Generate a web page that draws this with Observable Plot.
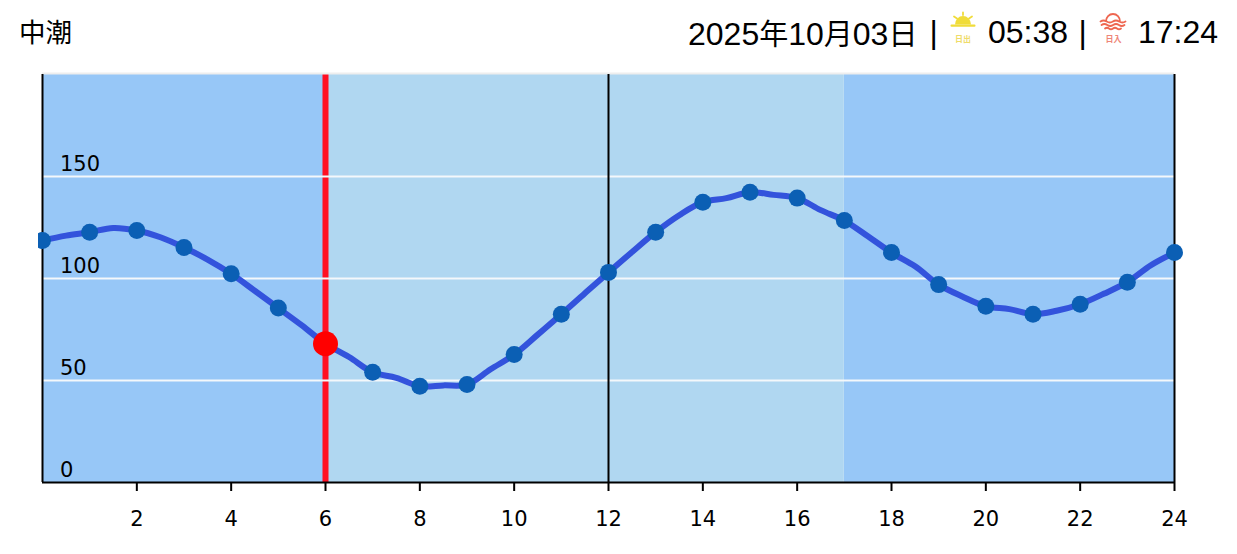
<!DOCTYPE html>
<html lang="ja">
<head>
<meta charset="utf-8">
<script src="https://cdn.jsdelivr.net/npm/d3@7"></script>
<script src="https://cdn.jsdelivr.net/npm/@observablehq/plot@0.6"></script>
<style>
html,body{margin:0;padding:0;background:#fff;overflow:hidden;width:1237px;height:554px}
#header{position:relative;height:60px;width:1237px;font-family:"Liberation Sans","Noto Sans CJK JP",sans-serif;color:#000}
#header span.t{position:absolute;top:13px;line-height:38px;font-size:32px;white-space:nowrap}
#header .c{font-family:"Noto Sans CJK JP",sans-serif;font-size:29px}
#header svg{position:absolute;top:10px}
#chart svg{display:block;clip-path:inset(0 0 0 38px)}
</style>
</head>
<body>
<div id="header"></div>
<div id="chart"></div>
<script>
const tideName = "中潮";
const dateParts = [["2025",0],["年",1],["10",0],["月",1],["03",0],["日",1]];
const sunriseText = "05:38";
const sunsetText = "17:24";

const halfHours = d3.range(0, 24.5, 0.5);
const tide = [
  118.6,121,122.7,124.8,123.5,120.2,115.2,109.3,102.3,94,85.5,77,
  68,61.5,54,51.3,47.2,47.6,48,55.5,62.7,72.5,82.5,92.8,
  103,113,122.7,131,137.4,139.4,142.3,141,139.4,133.5,128.4,120.7,
  112.7,106,97,91.2,86.4,85,82.5,84.2,87.4,92.5,98.2,106.5,112.7
];
const series = halfHours.map((h, i) => ({h, v: tide[i]}));
const hourly = series.filter(d => Number.isInteger(d.h));
const nowHour = 6;
const nowLevel = 68;
const nightBands = [[0, 6], [17, 24]];
const dayBands = [[6, 17]];
const xTicks = [2,4,6,8,10,12,14,16,18,20,22,24];
const yLabels = [0,50,100,150];
const yGrid = [50,100,150,200];
const xRules = [0,12,24];

// header
const hdr = document.getElementById("header");
function addText(html, left, extra){
  const s = document.createElement("span");
  s.className = "t";
  s.innerHTML = html;
  s.style.left = left + "px";
  if (extra) s.style.cssText += extra;
  hdr.appendChild(s);
}
addText(`<span class="c" style="font-size:26.5px">${tideName}</span>`, 19, "top:12px");
addText(dateParts.map(([t,c]) => c ? `<span class="c">${t}</span>` : t).join(""), 688);
addText("|", 929.5);
addText(sunriseText, 988);
addText("|", 1078.5);
addText(sunsetText, 1138);

hdr.insertAdjacentHTML("beforeend", `
<svg style="left:948px" width="30" height="34" viewBox="0 0 30 34">
  <path d="M7 14.500a8 8.500 0 0 1 16 0z" fill="#f0dc3a"/>
  <rect x="2.500" y="14.500" width="25" height="2.200" rx="1" fill="#f0dc3a"/>
  <g stroke="#f0dc3a" stroke-width="1.800" stroke-linecap="round">
    <path d="M15 2.500V5M6 6.500l3 2M24 6.500l-3 2"/>
  </g>
  <text x="15" y="32" text-anchor="middle" font-size="8" font-weight="700" font-family="Noto Sans CJK JP" fill="#efdc6a">日出</text>
</svg>
<svg style="left:1098px" width="30" height="34" viewBox="0 0 30 34">
  <path d="M8 11.500a7 7.500 0 0 1 14 0" fill="none" stroke="#ee6650" stroke-width="1.800"/>
  <g fill="none" stroke="#ee6650" stroke-width="1.800" stroke-linecap="round">
    <path d="M2.500 11.500q3-2 6.200 0t6.200 0 6.200 0 6.400 0"/>
    <path d="M3.500 15q2.900-2 5.800 0t5.800 0 5.800 0 5.600 0"/>
    <path d="M7 18.500q2-1.600 4 0t4 0 4 0 4 0"/>
  </g>
  <text x="15.500" y="32" text-anchor="middle" font-size="8" font-weight="700" font-family="Noto Sans CJK JP" fill="#ee8577">日入</text>
</svg>`);

const dark = "#97c7f7", light = "#b0d7f1";
const chart = Plot.plot({
  width: 1237, height: 494,
  marginLeft: 42, marginRight: 63, marginTop: 14, marginBottom: 72,
  style: {background: "transparent", color: "#000", overflow: "visible"},
  x: {domain: [0, 24], label: null},
  y: {domain: [0, 200], label: null, axis: null},
  marks: [
    Plot.rect(nightBands, {x1: d => d[0], x2: d => d[1], y1: 0, y2: 200, fill: dark}),
    Plot.rect(dayBands, {x1: d => d[0], x2: d => d[1], y1: 0, y2: 200, fill: light}),
    Plot.ruleX([nowHour], {stroke: "#ff0f23", strokeWidth: 6}),
    Plot.ruleY(yGrid.slice(0, 3), {stroke: "#f4f8fb", strokeWidth: 2}),
    Plot.ruleY(yGrid.slice(3), {stroke: "#eeeeee", strokeWidth: 2, dy: -1}),
    Plot.ruleX(xRules, {stroke: "#000", strokeWidth: 2}),
    Plot.ruleY([0], {stroke: "#000", strokeWidth: 2}),
    Plot.axisX({ticks: xTicks, tickSize: 9, tickPadding: 20, fontSize: 21, fontFamily: "DejaVu Sans", strokeWidth: 2, stroke: "#000", label: null, tickFormat: d => String(d), anchor: "bottom"}),
    Plot.text(yLabels, {x: () => 0, y: d => d, text: d => String(d), dx: 17.500, dy: -6, textAnchor: "start", lineAnchor: "bottom", fontSize: 21, fontFamily: "DejaVu Sans", fill: "#000"}),
    Plot.line(series, {x: "h", y: "v", stroke: "#3353dc", strokeWidth: 6, curve: "catmull-rom"}),
    Plot.dot(hourly.filter(d => d.h !== nowHour), {x: "h", y: "v", r: 8.500, fill: "#0b5fb4"}),
    Plot.dot([nowLevel], {x: () => nowHour, y: d => d, r: 12.500, fill: "#ff0000"})
  ]
});
document.getElementById("chart").appendChild(chart);
</script>
</body>
</html>
